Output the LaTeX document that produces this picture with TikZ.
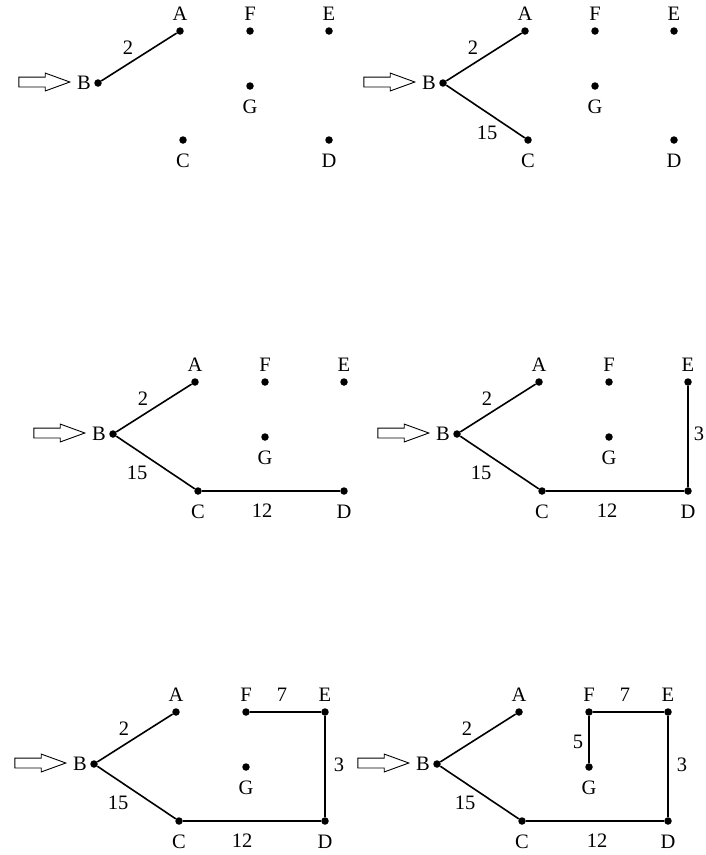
\documentclass[tikz,border=0pt]{standalone}
\usepackage{fontspec}
\setmainfont{Liberation Serif}
\usetikzlibrary{shapes.arrows}
\tikzset{
  figdot/.style={circle, fill=black, minimum size=7.5pt, inner sep=0pt},
  figedge/.style={line width=1.6pt, black},
  vtext/.style={font=\fontsize{20.5}{23}\selectfont, inner sep=0pt},
  vtop/.style={label={[vtext, label distance=6pt]above:#1}},
  vbot/.style={label={[vtext, label distance=10pt]below:#1}},
  vleft/.style={label={[vtext, label distance=3pt]left:#1}},
  wlabel/.style={vtext},
  inarrow/.style={single arrow, draw=black, fill=white, line width=0.9pt,
    minimum height=51pt, inner xsep=0pt, inner ysep=4.5pt,
    single arrow head extend=4pt, single arrow tip angle=40},
}
% Knoten eines Schritts, B liegt im Ursprung
\newcommand{\tourdots}[1]{%
  \node[figdot, vleft=B] (#1B) at (0,0) {};
  \node[figdot, vtop=A] (#1A) at (82,-52) {};
  \node[figdot, vtop=F] (#1F) at (152,-52) {};
  \node[figdot, vtop=E] (#1E) at (231,-52) {};
  \node[figdot, vbot=G] (#1G) at (152,3) {};
  \node[figdot, vbot=C] (#1C) at (85,57) {};
  \node[figdot, vbot=D] (#1D) at (231,57) {};
  \node[inarrow] (#1in) at (-60.5,-1) {};
}

\begin{document}
\begin{tikzpicture}[x=1pt, y=-1pt]
  \useasboundingbox (0,0) rectangle (705,855);
  % Schritt 1
  \begin{scope}[shift={(98,83)}]
    \tourdots{p1}
    \draw[figedge] (p1B) -- (p1A);
    \node[wlabel] (p1w2) at (30,-35) {2};
  \end{scope}
  % Schritt 2
  \begin{scope}[shift={(443,83)}]
    \tourdots{p2}
    \draw[figedge] (p2B) -- (p2A);
    \draw[figedge] (p2B) -- (p2C);
    \node[wlabel] (p2w2) at (30,-35) {2};
    \node[wlabel] (p2w15) at (44,50) {15};
  \end{scope}
  % Schritt 3
  \begin{scope}[shift={(113,434)}]
    \tourdots{p3}
    \draw[figedge] (p3B) -- (p3A);
    \draw[figedge] (p3B) -- (p3C);
    \draw[figedge] (p3C) -- (p3D);
    \node[wlabel] (p3w2) at (30,-35) {2};
    \node[wlabel] (p3w15) at (24,39) {15};
    \node[wlabel] (p3w12) at (149,77) {12};
  \end{scope}
  % Schritt 4
  \begin{scope}[shift={(457,434)}]
    \tourdots{p4}
    \draw[figedge] (p4B) -- (p4A);
    \draw[figedge] (p4B) -- (p4C);
    \draw[figedge] (p4C) -- (p4D);
    \draw[figedge] (p4D) -- (p4E);
    \node[wlabel] (p4w2) at (30,-35) {2};
    \node[wlabel] (p4w15) at (24,39) {15};
    \node[wlabel] (p4w12) at (150,77) {12};
    \node[wlabel] (p4w3) at (242,0) {3};
  \end{scope}
  % Schritt 5
  \begin{scope}[shift={(94,764)}]
    \tourdots{p5}
    \draw[figedge] (p5B) -- (p5A);
    \draw[figedge] (p5B) -- (p5C);
    \draw[figedge] (p5C) -- (p5D);
    \draw[figedge] (p5D) -- (p5E);
    \draw[figedge] (p5E) -- (p5F);
    \node[wlabel] (p5w2) at (30,-35) {2};
    \node[wlabel] (p5w15) at (24,39) {15};
    \node[wlabel] (p5w12) at (148,77) {12};
    \node[wlabel] (p5w3) at (245,1) {3};
    \node[wlabel] (p5w7) at (188,-69) {7};
  \end{scope}
  % Schritt 6
  \begin{scope}[shift={(437,764)}]
    \tourdots{p6}
    \draw[figedge] (p6B) -- (p6A);
    \draw[figedge] (p6B) -- (p6C);
    \draw[figedge] (p6C) -- (p6D);
    \draw[figedge] (p6D) -- (p6E);
    \draw[figedge] (p6E) -- (p6F);
    \draw[figedge] (p6F) -- (p6G);
    \node[wlabel] (p6w2) at (30,-35) {2};
    \node[wlabel] (p6w15) at (28,39) {15};
    \node[wlabel] (p6w12) at (160,77) {12};
    \node[wlabel] (p6w3) at (245,1) {3};
    \node[wlabel] (p6w7) at (188,-69) {7};
    \node[wlabel] (p6w5) at (141,-22) {5};
  \end{scope}
\end{tikzpicture}
\end{document}
